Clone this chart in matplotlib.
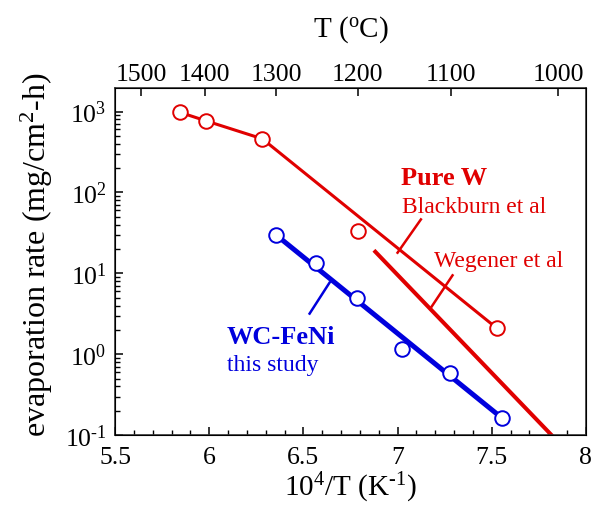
import matplotlib
matplotlib.use("Agg")
import matplotlib.pyplot as plt
from matplotlib.ticker import MultipleLocator, LogLocator, NullFormatter, FuncFormatter
import numpy as np

plt.rcParams["font.family"] = ["Liberation Serif", "DejaVu Serif"]
plt.rcParams["mathtext.fontset"] = "custom"
plt.rcParams["mathtext.rm"] = "Liberation Serif"
plt.rcParams["mathtext.it"] = "Liberation Serif:italic"
plt.rcParams["mathtext.bf"] = "Liberation Serif:bold"

RED = "#e00000"
BLUE = "#0000dd"

# Pure W (Blackburn et al) measured points
w_x = [5.843, 5.982, 6.282, 6.789, 7.527]
w_y = [980, 768, 460, 33, 2.1]
# Blackburn curve
bb_x = [5.843, 5.982, 6.282, 7.527]
bb_y = [980, 768, 460, 2.1]
# Wegener et al line
weg_x = [6.882, 7.818]
weg_y = [18.5, 0.1]
# WC-FeNi, this study
wc_x = [6.356, 6.565, 6.787, 7.024, 7.280, 7.553]
wc_y = [29.7, 13.3, 4.9, 1.15, 0.58, 0.164]
wc_fit_x = [6.356, 7.553]
wc_fit_y = [29.7, 0.164]
# top axis temperatures (deg C)
temps_c = [1500, 1400, 1300, 1200, 1100, 1000]

fig = plt.figure(figsize=(5.93, 5.06), dpi=100)
ax = fig.add_axes([0.194, 0.138, 0.794, 0.686])

ax.plot(bb_x, bb_y, color=RED, lw=2.2, zorder=2)
ax.plot(weg_x, weg_y, color=RED, lw=2.9, zorder=2)
ax.plot(wc_fit_x, wc_fit_y, color=BLUE, lw=3.6, zorder=2)
ax.plot(w_x, w_y, "o", ms=10.5, mfc="white", mec=RED, mew=1.4, zorder=3)
ax.plot(wc_x, wc_y, "o", ms=10.5, mfc="white", mec=BLUE, mew=1.4, zorder=3)

# leader lines
ax.plot([7.124, 7.0], [46.4, 18.0], color=RED, lw=1.8)
ax.plot([7.292, 7.181], [9.45, 3.88], color=RED, lw=1.8)
ax.plot([6.639, 6.533], [7.68, 3.18], color=BLUE, lw=1.8)

ax.text(7.018, 153, "Pure W", color=RED, fontsize=19, fontweight="bold", va="center", ha="left")
ax.text(7.025, 67.8, "Blackburn et al", color=RED, fontsize=17, va="center", ha="left")
ax.text(7.195, 14.6, "Wegener et al", color=RED, fontsize=17, va="center", ha="left")
ax.text(6.092, 1.65, "WC-FeNi", color=BLUE, fontsize=19, fontweight="bold", va="center", ha="left")
ax.text(6.092, 0.738, "this study", color=BLUE, fontsize=17, va="center", ha="left")

ax.set_yscale("log")
ax.set_xlim(5.5, 8)
ax.set_ylim(0.1, 1950)
ax.xaxis.set_major_locator(MultipleLocator(0.5))
ax.xaxis.set_minor_locator(MultipleLocator(0.1))
ax.xaxis.set_major_formatter(FuncFormatter(lambda v, p: f"{v:g}"))
ax.yaxis.set_major_locator(LogLocator(base=10, numticks=10))
ax.yaxis.set_minor_locator(LogLocator(base=10, subs=range(2, 10), numticks=20))
ax.yaxis.set_major_formatter(FuncFormatter(
    lambda v, p: "10$^{\\text{%d}}$" % int(round(np.log10(v)))))
ax.yaxis.set_minor_formatter(NullFormatter())
ax.tick_params(which="both", direction="in", top=False, right=False, labelsize=18.5, pad=8)
ax.tick_params(which="major", length=6, width=1.1)
ax.tick_params(which="minor", length=3.5, width=1.0)
ax.tick_params(axis="y", pad=6)
for s in ax.spines.values():
    s.set_linewidth(1.2)
    s.set_color("#333333")

ax.set_xlabel("10$^4$/T (K$^{\\text{-1}}$)", fontsize=21, labelpad=1)
ax.set_ylabel("evaporation rate (mg/cm$^2$-h)", fontsize=23)
ax.yaxis.set_label_coords(-0.127, 0.524)

top = ax.twiny()
top.set_xlim(ax.get_xlim())
top.set_xticks([1e4 / (t + 273.15) for t in temps_c])
top.set_xticklabels([str(t) for t in temps_c])
top.tick_params(direction="in", length=6, width=1.1, labelsize=18.5, pad=2)
top.set_xlabel("T ($^{\\rm o}$C)", fontsize=21, labelpad=20)

fig.savefig("out.png", dpi=100, facecolor="white")
